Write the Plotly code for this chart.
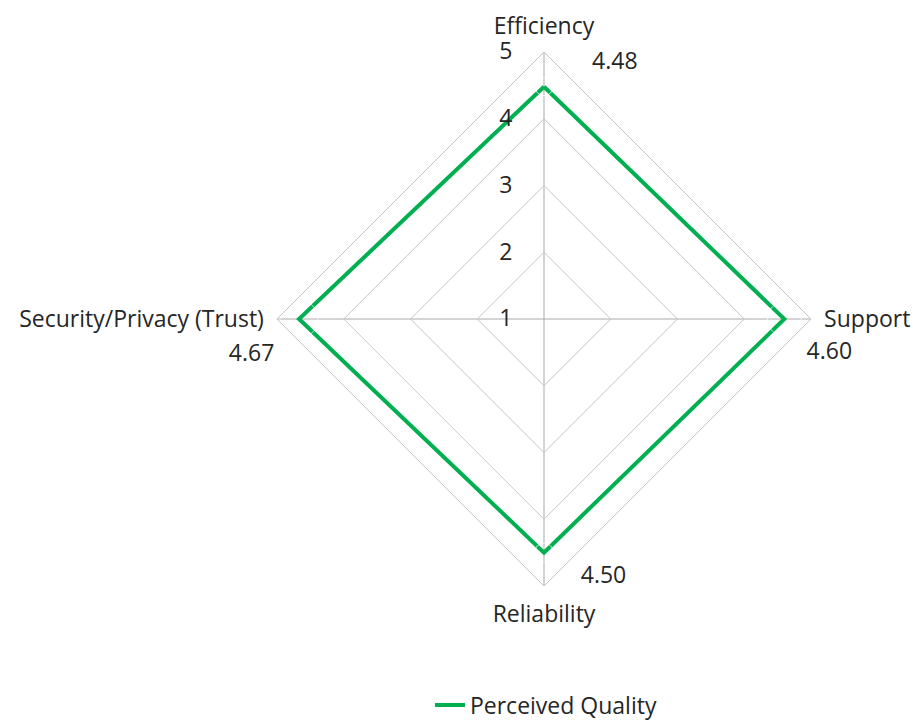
import plotly.graph_objects as go

categories = ["Efficiency", "Support", "Reliability", "Security/Privacy (Trust)"]
values = [4.48, 4.60, 4.50, 4.67]
value_labels = ["4.48", "4.60", "4.50", "4.67"]
label_positions = ["top right", "bottom right", "bottom right", "bottom left"]
radial_ticks = [1, 2, 3, 4, 5]
series_name = "Perceived Quality"

FONT = "Open Sans"
FS = 23
TXT = "#262626"
RING = "#c6c6c6"
SPOKE = "#a9a9a9"
GREEN = "#00B050"

fig = go.Figure()
fig.add_trace(go.Scatterpolar(
    r=values + values[:1],
    theta=categories + categories[:1],
    mode="lines",
    line=dict(color=GREEN, width=4),
    name=series_name,
))
# data labels (invisible markers only offset the text from the point)
fig.add_trace(go.Scatterpolar(
    r=values,
    theta=categories,
    mode="markers+text",
    marker=dict(size=[18, 34, 19, 38], color="rgba(0,0,0,0)"),
    text=["\u00a0" * 6 + value_labels[0],
          value_labels[1],
          "\u00a0" * 4 + value_labels[2],
          value_labels[3]],
    textposition=label_positions,
    textfont=dict(family=FONT, size=FS, color=TXT),
    showlegend=False,
    hoverinfo="skip",
))

cx, cy, R = 544, 319, 267
W, H = 913, 720
fig.update_layout(
    width=W, height=H,
    margin=dict(l=0, r=0, t=0, b=0, autoexpand=False),
    paper_bgcolor="white",
    font=dict(family=FONT, size=FS, color=TXT),
    polar=dict(
        domain=dict(x=[(cx - R) / W, (cx + R) / W],
                    y=[(H - cy - R) / H, (H - cy + R) / H]),
        gridshape="linear",
        bgcolor="white",
        radialaxis=dict(
            range=[1, 5], tickvals=radial_ticks, angle=90,
            side="counterclockwise",
            showline=False, gridcolor=RING, gridwidth=1,
            ticks="outside", ticklen=23, tickcolor="rgba(0,0,0,0)",
            tickfont=dict(family=FONT, size=FS, color=TXT),
            tickangle=90,
        ),
        angularaxis=dict(
            direction="clockwise", rotation=90,
            categoryorder="array", categoryarray=categories,
            linecolor=RING, linewidth=1, gridcolor=SPOKE,
            ticks="outside", ticklen=8, tickcolor="rgba(0,0,0,0)",
            tickfont=dict(family=FONT, size=FS, color=TXT),
        ),
    ),
    legend=dict(orientation="h", x=0.598, xanchor="center", y=15 / 720, yanchor="middle",
                font=dict(family=FONT, size=FS, color=TXT)),
)

fig.write_html("out.html")
